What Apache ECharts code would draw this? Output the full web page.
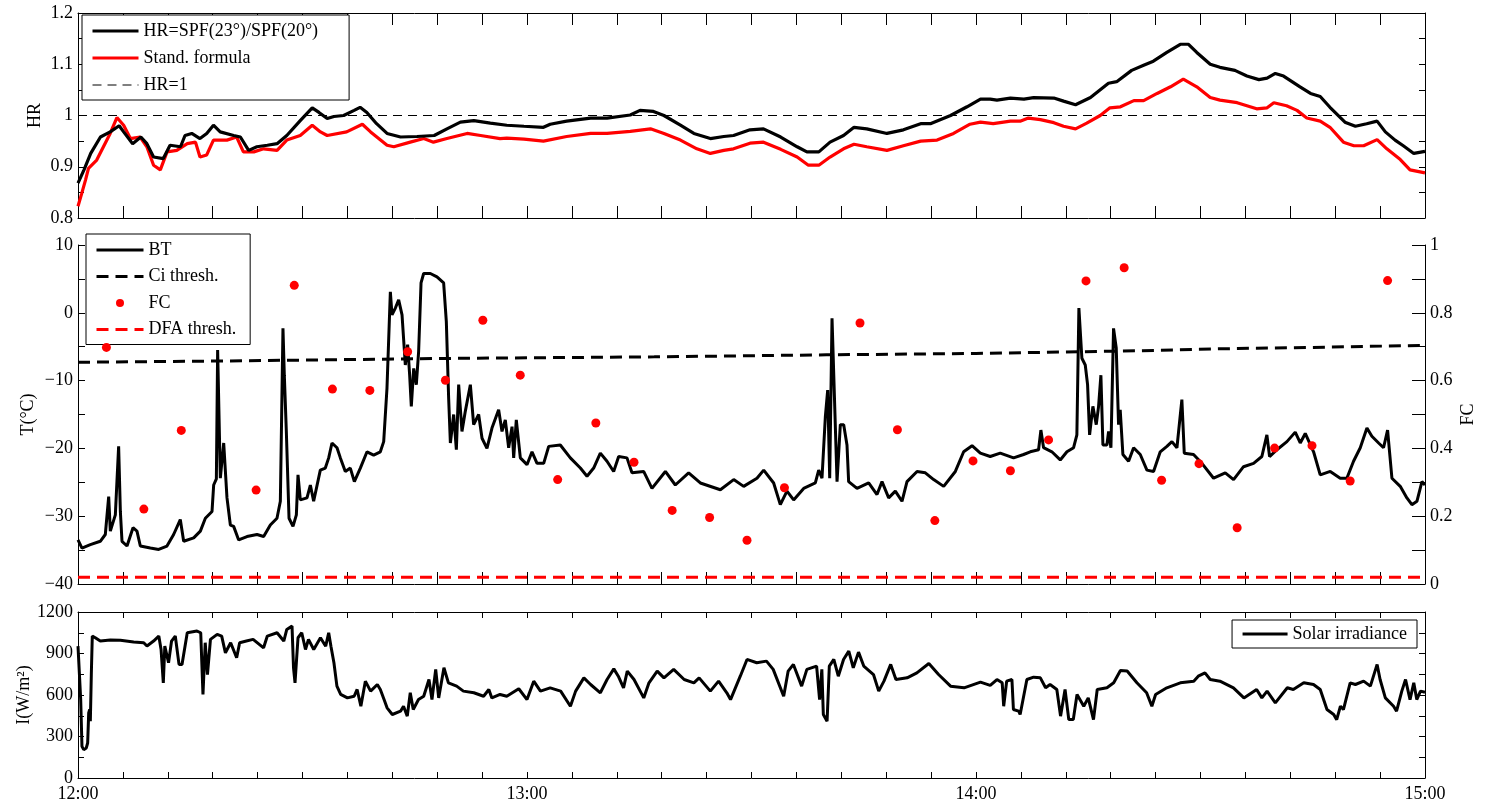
<!DOCTYPE html>
<html><head><meta charset="utf-8">
<script src="https://cdn.jsdelivr.net/npm/echarts@6/dist/echarts.min.js"></script>
<style>html,body{margin:0;padding:0;background:#fff}#c{width:1488px;height:805px}</style>
</head><body><div id="c"></div>
<script>
// ---- data (x = minutes after 12:00) ----
const xTickLabels = ['12:00', '13:00', '14:00', '15:00'];

const hrRatio = [[0,0.868],[0.8,0.894],[1.7,0.926],[3.0,0.958],[4.3,0.968],[5.5,0.980],[6.1,0.968],[7.3,0.945],[8.4,0.958],[9.2,0.945],[10.1,0.919],[11.4,0.916],[12.3,0.942],[13.7,0.939],[14.3,0.961],[15.2,0.965],[16.3,0.955],[17.2,0.965],[18.1,0.981],[19.0,0.968],[20.8,0.961],[21.7,0.958],[22.8,0.932],[23.9,0.939],[25.3,0.942],[26.6,0.945],[27.9,0.961],[29.7,0.990],[31.3,1.015],[32.2,1.006],[33.3,0.994],[34.2,0.998],[35.5,1.000],[36.9,1.010],[37.7,1.016],[38.6,1.006],[39.9,0.984],[41.3,0.965],[43.1,0.958],[45.3,0.959],[47.6,0.961],[49.3,0.974],[51.1,0.987],[52.9,0.990],[55.1,0.985],[57.3,0.981],[59.6,0.979],[62.2,0.977],[63.1,0.983],[65.3,0.989],[68.5,0.995],[70.7,0.995],[73.8,1.001],[75.1,1.010],[76.9,1.008],[78.3,1.000],[80.5,0.981],[82.3,0.965],[84.5,0.955],[86.3,0.959],[87.6,0.961],[89.8,0.972],[91.6,0.974],[93.9,0.958],[96.1,0.939],[97.4,0.929],[99.0,0.929],[100.5,0.948],[102.3,0.961],[103.7,0.977],[105.4,0.974],[108.1,0.965],[110.3,0.972],[112.6,0.984],[113.9,0.984],[116.6,1.000],[118.8,1.017],[120.6,1.032],[121.9,1.032],[122.8,1.030],[124.6,1.034],[126.4,1.032],[127.7,1.035],[130.4,1.034],[131.7,1.028],[133.3,1.021],[135.3,1.035],[137.7,1.063],[138.8,1.066],[140.8,1.088],[142.4,1.098],[143.7,1.106],[145.5,1.123],[147.3,1.139],[148.4,1.139],[149.5,1.123],[151.3,1.100],[152.6,1.094],[154.6,1.088],[156.2,1.077],[157.8,1.070],[158.9,1.073],[160.0,1.082],[161.1,1.077],[163.3,1.056],[164.7,1.043],[166.0,1.037],[167.3,1.016],[169.3,0.987],[170.7,0.979],[172.2,0.984],[173.6,0.989],[174.7,0.968],[176.0,0.952],[177.1,0.941],[178.5,0.926],[180,0.930]];

const standFormula = [[0,0.823],[0.5,0.848],[1.0,0.874],[1.4,0.897],[2.5,0.913],[3.4,0.939],[4.3,0.965],[5.2,0.996],[6.1,0.981],[7.0,0.955],[8.3,0.958],[9.2,0.939],[10.1,0.903],[11.0,0.894],[11.9,0.929],[13.2,0.932],[14.6,0.945],[15.7,0.948],[16.3,0.919],[17.2,0.923],[18.1,0.952],[19.9,0.952],[21.2,0.958],[22.1,0.929],[23.5,0.929],[24.8,0.935],[26.6,0.932],[27.9,0.952],[29.7,0.961],[31.3,0.981],[32.4,0.968],[33.3,0.961],[35.9,0.968],[38.0,0.983],[39.1,0.968],[41.3,0.942],[42.2,0.939],[44.4,0.948],[46.2,0.955],[47.5,0.948],[49.3,0.955],[52.0,0.965],[53.8,0.961],[56.4,0.955],[57.3,0.956],[59.6,0.954],[62.2,0.950],[65.3,0.959],[68.5,0.965],[70.7,0.965],[73.8,0.969],[76.5,0.974],[78.3,0.965],[80.5,0.952],[82.7,0.935],[84.5,0.926],[86.3,0.932],[87.6,0.935],[89.8,0.946],[91.6,0.948],[93.9,0.934],[96.1,0.919],[97.6,0.903],[99.0,0.903],[100.5,0.919],[102.3,0.935],[103.7,0.944],[105.4,0.939],[108.1,0.932],[110.3,0.941],[112.6,0.950],[114.8,0.952],[117.0,0.965],[119.2,0.983],[120.6,0.987],[122.3,0.984],[124.6,0.989],[125.9,0.989],[127.0,0.995],[128.6,0.992],[130.4,0.986],[131.7,0.979],[133.3,0.974],[134.8,0.985],[136.6,1.000],[137.9,1.015],[139.3,1.017],[141.1,1.029],[142.4,1.029],[144.2,1.043],[146.0,1.056],[147.7,1.071],[149.5,1.056],[151.3,1.035],[152.6,1.030],[154.9,1.025],[156.2,1.019],[157.5,1.013],[158.9,1.015],[159.8,1.025],[161.5,1.019],[162.9,1.010],[164.2,0.995],[166.0,0.989],[167.3,0.977],[169.1,0.948],[170.5,0.941],[171.8,0.941],[173.6,0.953],[174.9,0.935],[176.7,0.914],[178.0,0.894],[180,0.888]];

const hrOne = [[0,1],[180,1]];

const brightnessTemp = [[0,-33.5],[0.53,-34.7],[1.65,-34.2],[2.98,-33.7],[3.65,-32.7],[4.10,-27.1],[4.32,-32.2],[4.99,-29.8],[5.43,-19.7],[5.66,-29.3],[5.88,-33.7],[6.55,-34.4],[7.35,-31.7],[7.88,-32.2],[8.33,-34.4],[9.67,-34.7],[10.78,-34.9],[11.89,-34.4],[12.78,-32.7],[13.67,-30.5],[14.12,-33.7],[15.46,-33.2],[16.35,-32.2],[17.02,-30.3],[17.91,-29.3],[18.13,-25.4],[18.49,-24.5],[18.66,-5.5],[19.02,-24.4],[19.47,-19.2],[19.91,-27.3],[20.36,-31.3],[20.80,-31.5],[21.47,-33.5],[22.58,-33.0],[23.92,-32.7],[24.81,-33.0],[25.70,-31.3],[26.59,-30.3],[27.04,-27.8],[27.39,-2.3],[27.57,-9.2],[27.84,-17.5],[28.20,-30.3],[28.73,-31.5],[29.18,-29.8],[29.40,-23.9],[29.71,-27.6],[30.60,-27.3],[31.05,-25.4],[31.49,-27.8],[32.38,-23.2],[33.05,-22.9],[33.50,-21.4],[33.94,-19.2],[34.61,-19.9],[35.06,-21.4],[35.72,-23.4],[36.39,-22.9],[36.93,-24.9],[37.73,-22.9],[38.62,-20.5],[39.51,-21.0],[40.40,-20.5],[40.85,-19.0],[41.29,-11.1],[41.74,3.1],[41.96,-0.3],[42.41,0.7],[42.85,1.9],[43.30,-0.3],[43.74,-7.7],[44.05,-4.7],[44.32,-9.2],[44.54,-13.8],[44.86,-8.2],[45.21,-10.6],[45.52,-5.7],[45.84,4.4],[46.19,5.8],[47.08,5.8],[47.97,5.3],[48.86,4.4],[49.22,-1.3],[49.53,-12.6],[49.76,-19.2],[50.20,-15.0],[50.56,-20.2],[50.87,-10.6],[51.31,-17.5],[51.76,-14.5],[52.43,-10.6],[52.87,-16.5],[53.54,-15.0],[53.99,-18.5],[54.65,-20.0],[55.32,-17.0],[56.21,-14.3],[56.66,-17.5],[57.10,-15.8],[57.55,-19.9],[58.00,-16.8],[58.22,-21.4],[58.57,-15.8],[59.11,-21.4],[60.00,-22.4],[60.67,-20.5],[61.34,-22.2],[62.23,-22.2],[62.90,-19.7],[64.45,-19.5],[65.79,-21.4],[67.13,-22.9],[68.02,-24.1],[68.91,-22.9],[69.80,-20.7],[70.69,-21.9],[71.58,-23.4],[72.25,-21.2],[73.36,-21.4],[74.03,-23.6],[75.59,-23.4],[76.70,-25.9],[78.49,-23.4],[79.82,-25.4],[81.60,-23.6],[83.16,-25.1],[85.84,-26.1],[87.62,-24.6],[88.95,-25.6],[90.73,-24.4],[91.63,-23.2],[92.96,-25.1],[93.85,-28.3],[94.74,-26.3],[95.63,-27.6],[96.97,-25.9],[98.53,-25.1],[98.98,-23.2],[99.42,-24.4],[99.87,-15.3],[100.18,-11.4],[100.45,-24.4],[100.76,-0.8],[100.98,-0.8],[101.43,-24.9],[101.87,-16.5],[102.32,-16.5],[102.76,-19.5],[102.98,-24.9],[104.10,-25.9],[105.66,-25.1],[106.77,-26.8],[107.44,-24.9],[108.33,-27.3],[109.22,-26.3],[110.11,-27.8],[110.78,-24.9],[112.12,-23.4],[113.23,-23.6],[114.34,-24.6],[115.68,-25.6],[117.24,-23.4],[118.35,-20.5],[119.47,-19.6],[120.58,-20.7],[121.90,-21.2],[123.24,-20.7],[125.02,-21.4],[126.36,-20.9],[127.25,-20.5],[128.36,-20.2],[128.67,-17.3],[129.03,-19.9],[130.14,-20.5],[131.26,-21.7],[132.15,-20.5],[133.04,-19.9],[133.48,-18.0],[133.75,0.7],[134.15,-6.7],[134.60,-7.7],[134.91,-10.6],[135.18,-18.0],[135.62,-13.8],[136.07,-16.5],[136.38,-13.8],[136.69,-9.2],[136.96,-19.5],[137.49,-19.5],[137.72,-17.5],[138.03,-19.9],[138.38,-2.3],[138.74,-5.2],[139.05,-16.5],[139.27,-14.3],[139.63,-20.9],[140.39,-21.9],[141.06,-19.9],[141.95,-20.9],[142.84,-23.2],[143.73,-23.4],[144.62,-20.5],[145.51,-19.7],[146.18,-19.0],[146.85,-19.9],[147.51,-12.8],[147.83,-20.7],[149.07,-20.9],[150.19,-22.2],[151.75,-24.4],[153.31,-23.6],[154.42,-24.6],[155.75,-22.7],[157.09,-22.2],[158.20,-21.2],[158.87,-18.0],[159.23,-21.2],[160.21,-20.2],[161.55,-19.0],[162.66,-17.6],[163.33,-19.2],[164.00,-17.8],[165.11,-20.5],[166.00,-23.9],[167.34,-23.4],[168.67,-24.4],[169.56,-24.4],[170.45,-21.9],[171.35,-19.9],[172.24,-17.0],[172.90,-18.2],[173.80,-19.2],[174.46,-19.9],[175.00,-17.3],[175.58,-24.4],[176.69,-25.6],[177.58,-27.3],[178.25,-28.3],[178.92,-27.8],[179.59,-24.9],[180,-25.4]];

const ciThreshold = [[0,-7.3],[20,-7.1],[52,-6.7],[77,-6.5],[100,-6.2],[120,-6.0],[142,-5.6],[153,-5.3],[165,-5.1],[180,-4.8]];
const dfaThreshold = [[0,-39],[180,-39]];

const fcValues = [[3.8,0.698],[8.8,0.221],[13.8,0.453],[23.8,0.277],[28.9,0.881],[34.0,0.575],[39.0,0.571],[44.05,0.685],[49.1,0.601],[54.1,0.778],[59.1,0.616],[64.1,0.308],[69.2,0.475],[74.3,0.359],[79.4,0.217],[84.4,0.196],[89.4,0.129],[94.4,0.284],[104.5,0.770],[109.5,0.455],[114.5,0.187],[119.6,0.363],[124.6,0.334],[129.7,0.425],[134.7,0.894],[139.8,0.933],[144.8,0.306],[149.8,0.355],[154.9,0.166],[159.9,0.401],[164.9,0.408],[170.0,0.304],[175.0,0.895]];

const solarIrradiance = [[0,953],[0.22,953],[0.36,567],[0.53,229],[0.76,205],[1.11,217],[1.29,253],[1.43,471],[1.56,495],[1.65,410],[1.78,748],[1.91,1026],[2.31,1014],[2.98,990],[4.32,997],[5.66,995],[7.44,983],[8.78,978],[9.22,954],[10.1,990],[10.8,1026],[11.1,929],[11.4,688],[11.6,953],[12.1,833],[12.5,990],[13.0,1026],[13.5,821],[13.9,821],[14.6,1050],[15.9,1062],[16.4,1050],[16.7,604],[17.0,978],[17.3,748],[17.7,1002],[18.6,1038],[19.2,1026],[19.7,905],[20.4,978],[21.2,869],[21.6,978],[22.5,990],[23.4,1002],[24.8,941],[25.3,1026],[26.6,1050],[27.5,990],[27.9,1074],[28.6,1098],[28.8,797],[29.0,688],[29.4,1014],[29.9,1050],[30.4,929],[30.8,1002],[31.5,929],[32.4,1014],[33.1,953],[33.5,1050],[33.8,953],[34.2,833],[34.6,664],[35.1,604],[36.0,579],[36.9,591],[37.3,640],[37.8,519],[38.4,700],[39.1,628],[40.0,676],[40.4,640],[40.9,567],[41.3,507],[42.0,459],[43.1,483],[43.5,519],[44.0,447],[44.4,616],[44.8,495],[45.5,567],[46.2,591],[46.9,712],[47.3,567],[47.8,785],[48.2,579],[48.9,797],[49.5,688],[50.6,664],[51.5,628],[52.9,616],[54.2,591],[54.9,640],[55.3,579],[56.4,604],[57.3,591],[58.9,645],[60.0,567],[60.9,700],[61.8,628],[63.1,652],[64.5,628],[65.8,519],[66.5,628],[67.6,724],[68.5,676],[69.8,616],[70.7,712],[71.6,789],[72.2,736],[72.9,652],[73.4,773],[74.3,712],[75.6,579],[76.3,688],[77.4,773],[78.3,724],[79.6,785],[81.0,712],[82.3,688],[83.0,724],[84.5,628],[85.6,700],[86.7,616],[87.2,567],[88.5,736],[89.4,857],[90.7,833],[92.0,845],[92.9,785],[94.3,591],[94.9,773],[95.6,821],[96.7,664],[97.4,785],[98.7,809],[99.1,567],[99.4,785],[99.6,459],[100.1,410],[100.4,809],[101.0,857],[101.6,736],[102.3,857],[103.0,917],[103.6,797],[104.3,910],[105.0,809],[106.3,748],[107.0,628],[107.7,700],[108.6,821],[109.3,712],[110.8,724],[112.1,760],[113.7,828],[115.0,748],[116.6,664],[118.4,652],[120.6,693],[121.9,669],[122.8,712],[123.5,688],[123.7,519],[124.1,700],[124.8,712],[125.0,495],[125.7,483],[125.9,459],[126.8,712],[127.7,729],[128.6,724],[129.3,652],[129.9,676],[130.8,640],[131.3,447],[131.9,640],[132.4,422],[133.0,422],[133.5,604],[134.4,519],[135.0,579],[135.7,422],[136.2,640],[137.5,652],[138.4,688],[139.3,777],[140.2,773],[141.5,688],[142.8,616],[143.5,519],[144.0,604],[145.5,652],[147.3,688],[149.1,700],[149.7,736],[150.6,760],[151.3,712],[152.6,700],[154.4,652],[155.8,579],[157.5,640],[158.2,579],[158.9,628],[160.0,543],[161.6,652],[162.4,640],[163.8,688],[165.1,676],[166.0,640],[166.9,495],[167.8,459],[168.2,422],[168.7,519],[169.1,495],[170.0,688],[170.7,676],[171.8,700],[172.7,664],[173.6,821],[174.0,712],[174.7,579],[175.8,519],[176.2,483],[176.9,628],[177.4,712],[178.0,567],[178.5,688],[178.9,567],[179.4,628],[180,620]];

// ---- chart ----
const FONT = '"Liberation Serif","DejaVu Serif","Times New Roman",serif';
const chart = echarts.init(document.getElementById('c'));
const grids = [
  {left: 78, top: 13, width: 1347, height: 205},
  {left: 78, top: 245, width: 1347, height: 339},
  {left: 78, top: 612, width: 1347, height: 166}
];
const line = {show: true, onZero: false, lineStyle: {color: '#000', width: 1}};
function xAx(g, pos, showLabel, tl, hidden) {
  return {
    type: 'value', gridIndex: g, position: pos, min: 0, max: 180, interval: 60,
    axisLine: hidden ? {show: false, onZero: false} : line,
    axisTick: {show: !hidden, inside: true, length: tl, lineStyle: {color: '#000'}},
    minorTick: {show: !hidden, splitNumber: 10, length: tl, lineStyle: {color: '#000'}},
    splitLine: {show: false},
    axisLabel: {show: showLabel, color: '#000', fontSize: 18, fontFamily: FONT, margin: 7,
      formatter: v => xTickLabels[Math.round(v / 60)]}
  };
}
function yAx(g, pos, min, max, interval, showLabel, tl, fmt, name, gap) {
  return {
    type: 'value', gridIndex: g, position: pos, min, max, interval,
    axisLine: line,
    axisTick: {show: true, inside: true, length: tl, lineStyle: {color: '#000'}},
    minorTick: {show: true, splitNumber: 2, length: tl, lineStyle: {color: '#000'}},
    splitLine: {show: false},
    axisLabel: {show: showLabel, color: '#000', fontSize: 18, fontFamily: FONT, margin: 5, formatter: fmt},
    name: name || '', nameLocation: 'middle', nameGap: gap || 0, nameRotate: 90,
    nameMoveOverlap: false,
    nameTextStyle: {color: '#000', fontSize: 18, fontFamily: FONT}
  };
}
const num = v => (v < 0 ? '\u2212' + String(+(-v).toFixed(2)) : String(+v.toFixed(2)));

const legendBase = {
  orient: 'vertical', backgroundColor: '#fff', borderColor: '#000', borderWidth: 1,
  itemWidth: 46, itemHeight: 8, borderRadius: 0,
  textStyle: {color: '#000', fontSize: 18, fontFamily: FONT},
  inactiveColor: '#000'
};
const hideSym = {opacity: 0};

const option = {
  animation: false,
  backgroundColor: '#fff',
  textStyle: {fontFamily: FONT},
  grid: grids,
  xAxis: [
    xAx(0, 'bottom', false, 12), xAx(0, 'top', false, 12),
    xAx(1, 'bottom', false, 12), xAx(1, 'top', false, 12, true),
    xAx(2, 'bottom', true, 6), xAx(2, 'top', false, 6)
  ],
  yAxis: [
    yAx(0, 'left', 0.8, 1.2, 0.1, true, 6, num, 'HR', 34),
    yAx(0, 'right', 0.8, 1.2, 0.1, false, 6, num),
    yAx(1, 'left', -40, 10, 10, true, 7, num, 'T(°C)', 41),
    yAx(1, 'right', 0, 1, 0.2, true, 13, num, 'FC', 34),
    yAx(2, 'left', 0, 1200, 300, true, 6, num, 'I(W/m²)', 45),
    yAx(2, 'right', 0, 1200, 300, false, 6, num)
  ],
  legend: [
    Object.assign({}, legendBase, {
      left: 82, top: 15, itemGap: 9, padding: [7, 31, 6, 9],
      data: [
        {name: 'HR=SPF(23°)/SPF(20°)', lineStyle: {width: 3}, itemStyle: hideSym},
        {name: 'Stand. formula', lineStyle: {width: 3}, itemStyle: hideSym},
        {name: 'HR=1', lineStyle: {width: 1}, itemStyle: hideSym}
      ]
    }),
    Object.assign({}, legendBase, {
      left: 86, top: 234, itemGap: 8.5, padding: [7, 14, 6, 9], itemWidth: 47,
      data: [
        {name: 'BT', lineStyle: {width: 3}, itemStyle: hideSym},
        {name: 'Ci thresh.', lineStyle: {width: 3}, itemStyle: hideSym},
        {name: 'FC', icon: 'circle'},
        {name: 'DFA thresh.', lineStyle: {width: 3}, itemStyle: hideSym}
      ]
    }),
    Object.assign({}, legendBase, {
      right: 71, top: 620, padding: [5, 10, 5, 9], itemWidth: 45,
      data: [{name: 'Solar irradiance', lineStyle: {width: 3}, itemStyle: hideSym}]
    })
  ],
  series: [
    {name: 'HR=SPF(23°)/SPF(20°)', type: 'line', xAxisIndex: 0, yAxisIndex: 0, data: hrRatio,
      symbol: 'none', color: '#000', lineStyle: {color: '#000', width: 3.2}, z: 3},
    {name: 'Stand. formula', type: 'line', xAxisIndex: 0, yAxisIndex: 0, data: standFormula,
      symbol: 'none', color: '#ff0000', lineStyle: {color: '#ff0000', width: 3.2}, z: 2},
    {name: 'HR=1', type: 'line', xAxisIndex: 0, yAxisIndex: 0, data: hrOne,
      symbol: 'none', color: '#000', lineStyle: {color: '#000', width: 1, type: [9, 6]}, z: 1},
    {name: 'BT', type: 'line', xAxisIndex: 2, yAxisIndex: 2, data: brightnessTemp,
      symbol: 'none', color: '#000', lineStyle: {color: '#000', width: 3}, z: 3},
    {name: 'Ci thresh.', type: 'line', xAxisIndex: 2, yAxisIndex: 2, data: ciThreshold,
      symbol: 'none', color: '#000', lineStyle: {color: '#000', width: 3, type: [12, 7]}, z: 2},
    {name: 'FC', type: 'scatter', xAxisIndex: 2, yAxisIndex: 3, data: fcValues,
      symbol: 'circle', symbolSize: 9, color: '#ff0000', itemStyle: {color: '#ff0000', opacity: 1}, z: 4},
    {name: 'DFA thresh.', type: 'line', xAxisIndex: 2, yAxisIndex: 2, data: dfaThreshold,
      symbol: 'none', color: '#ff0000', lineStyle: {color: '#ff0000', width: 3, type: [12, 7]}, z: 2},
    {name: 'Solar irradiance', type: 'line', xAxisIndex: 4, yAxisIndex: 4, data: solarIrradiance,
      symbol: 'none', color: '#000', lineStyle: {color: '#000', width: 3}, z: 3}
  ]
};
chart.setOption(option);
</script></body></html>
